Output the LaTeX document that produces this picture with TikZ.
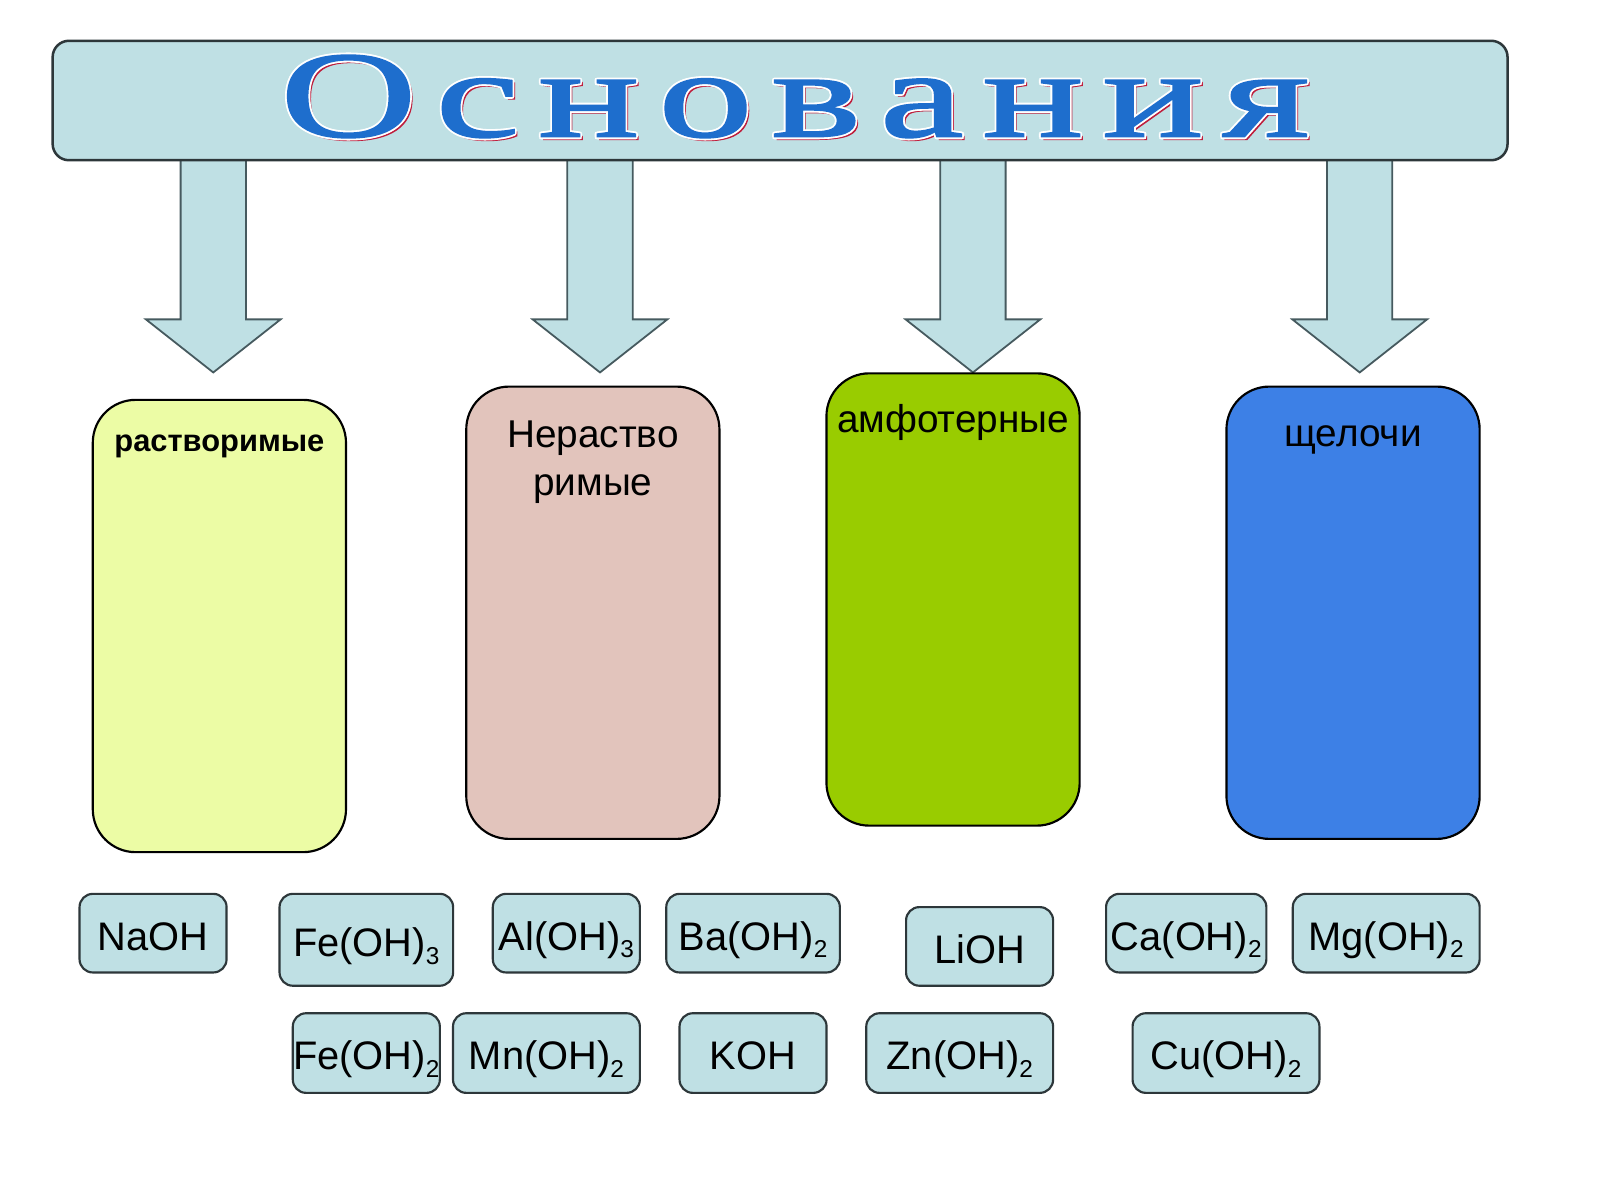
\documentclass[tikz,border=0pt]{standalone}
\usepackage{fontspec}
\setmainfont{Liberation Sans}
\newfontfamily\titlefont[FakeBold=1.2]{Liberation Serif}
\usepackage{graphicx}
\definecolor{paleblue}{RGB}{191,224,228}
\definecolor{edgegray}{RGB}{45,55,58}
\definecolor{arrowedge}{RGB}{70,90,95}
\definecolor{catA}{RGB}{236,252,165}
\definecolor{catB}{RGB}{226,196,188}
\definecolor{catC}{RGB}{153,204,0}
\definecolor{catD}{RGB}{61,128,230}
\definecolor{titleblue}{RGB}{30,110,205}
\definecolor{titlered}{RGB}{190,30,60}
\newcommand\chs[1]{\raisebox{-0.35ex}{\fontsize{6.8pt}{7pt}\selectfont #1}}
\newcommand\tk{\kern0.1em}
\newcommand\titleword[1]{\resizebox{10.08cm}{0.80cm}{\titlefont\color{#1}О\tk с\tk н\tk о\tk в\tk а\tk н\tk и\tk я}}
\tikzset{
  blockarrow/.style={fill=paleblue, draw=arrowedge, line width=0.5pt, line join=miter},
  titlebox/.style={draw=edgegray, fill=paleblue, line width=0.7pt, rounded corners=0.16cm,
    minimum width=14.25cm, minimum height=1.17cm, inner sep=0pt},
  catbox/.style={draw=black, line width=0.6pt, rounded corners=0.42cm,
    minimum width=2.48cm, minimum height=4.43cm, inner sep=0pt},
  catlabel/.style={anchor=base, inner sep=0pt, font=\fontsize{10.8pt}{13.4pt}\selectfont, align=center},
  chem/.style={draw=edgegray, fill=paleblue, line width=0.6pt, rounded corners=0.13cm,
    inner sep=0pt, text height=0.33cm, text depth=0cm, font=\fontsize{11.1pt}{13pt}\selectfont},
  titletext/.style={anchor=base, inner sep=0pt}
}
\begin{document}
\begin{tikzpicture}[x=0.01cm, y=-0.01cm]
\useasboundingbox[fill=white] (0,0) rectangle (1568,1176);
% block arrows
\foreach \cx in {209,588,953.5,1332.5}{
  \draw[blockarrow] ({\cx-32},150) -- ({\cx-32},313) -- ({\cx-66},313) -- (\cx,365)
     -- ({\cx+66},313) -- ({\cx+32},313) -- ({\cx+32},150) -- cycle;
}
% title
\node[titlebox] (title) at (764.5,98.5) {};
\node[titletext] (tshadow) at (781.5,136.5) {\titleword{titlered}};
\foreach \dx/\dy in {-1.8/0,1.8/0,0/-1.8,0/1.8,-1.3/-1.3,1.3/1.3,-1.3/1.3,1.3/-1.3}{
  \node[titletext] at ({779+\dx},{134+\dy}) {\titleword{white}};
}
\node[titletext] (tmain) at (779,134) {\titleword{titleblue}};
% category boxes
\node[catbox, fill=catA] (sol) at (215,613.5) {};
\node[catbox, fill=catB] (insol) at (581,600.5) {};
\node[catbox, fill=catC] (amph) at (934,587.5) {};
\node[catbox, fill=catD] (alk) at (1326,600.5) {};
\node[catlabel, font=\fontsize{8.6pt}{10pt}\selectfont\bfseries] (solL) at (215,442) {растворимые};
\node[catlabel] (insolL1) at (581,439) {Нераство};
\node[catlabel] (insolL2) at (581,486) {римые};
\node[catlabel] (amphL) at (934,424) {амфотерные};
\node[catlabel] (alkL) at (1326,438) {щелочи};
% formula boxes, row 1
\node[chem, minimum width=1.44cm, minimum height=0.77cm] (naoh) at (150,914.5) {NaOH};
\node[chem, minimum width=1.70cm, minimum height=0.90cm] (fe3) at (359,921) {Fe(OH)\chs{3}};
\node[chem, minimum width=1.44cm, minimum height=0.77cm] (al) at (555,914.5) {Al(OH)\chs{3}};
\node[chem, minimum width=1.70cm, minimum height=0.77cm] (ba) at (738,914.5) {Ba(OH)\chs{2}};
\node[chem, minimum width=1.44cm, minimum height=0.77cm] (lioh) at (960,927.5) {LiOH};
\node[chem, minimum width=1.57cm, minimum height=0.77cm] (ca) at (1162.5,914.5) {Ca(OH)\chs{2}};
\node[chem, minimum width=1.83cm, minimum height=0.77cm] (mg) at (1358.5,914.5) {Mg(OH)\chs{2}};
% row 2
\node[chem, minimum width=1.44cm, minimum height=0.78cm] (fe2) at (359,1032) {Fe(OH)\chs{2}};
\node[chem, minimum width=1.83cm, minimum height=0.78cm] (mn) at (535.5,1032) {Mn(OH)\chs{2}};
\node[chem, minimum width=1.44cm, minimum height=0.78cm] (koh) at (738,1032) {KOH};
\node[chem, minimum width=1.83cm, minimum height=0.78cm] (zn) at (940.5,1032) {Zn(OH)\chs{2}};
\node[chem, minimum width=1.83cm, minimum height=0.78cm] (cu) at (1201.5,1032) {Cu(OH)\chs{2}};
\end{tikzpicture}
\end{document}
